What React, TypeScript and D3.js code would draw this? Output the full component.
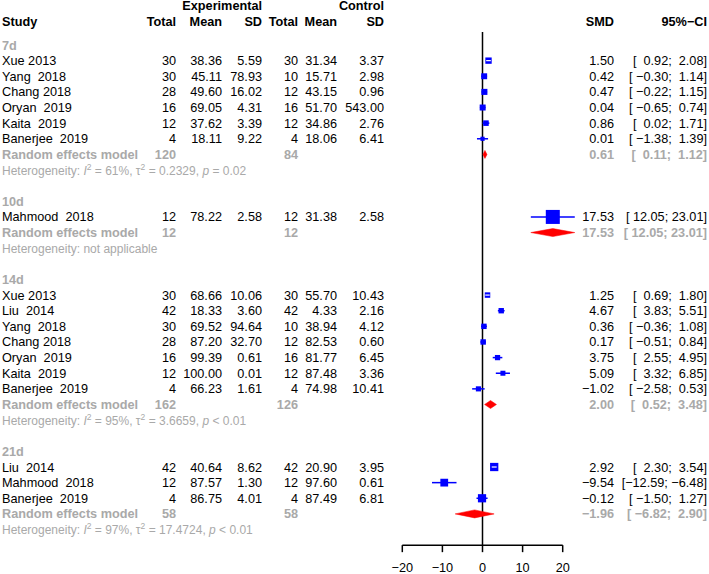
import React from 'react';
import * as d3 from 'd3';

const subgroups = ['7d', '10d', '14d', '21d'];
const studyLabels = ['Xue 2013', 'Yang  2018', 'Chang 2018', 'Oryan  2019', 'Kaita  2019', 'Banerjee  2019',
  'Mahmood  2018',
  'Xue 2013', 'Liu  2014', 'Yang  2018', 'Chang 2018', 'Oryan  2019', 'Kaita  2019', 'Banerjee  2019',
  'Liu  2014', 'Mahmood  2018', 'Banerjee  2019'];
const studyGroup = ['7d', '7d', '7d', '7d', '7d', '7d', '10d', '14d', '14d', '14d', '14d', '14d', '14d', '14d', '21d', '21d', '21d'];
const expTotal = [30, 30, 28, 16, 12, 4, 12, 30, 42, 30, 28, 16, 12, 4, 42, 12, 4];
const expMean = [38.36, 45.11, 49.60, 69.05, 37.62, 18.11, 78.22, 68.66, 18.33, 69.52, 87.20, 99.39, 100.00, 66.23, 40.64, 87.57, 86.75];
const expSD = [5.59, 78.93, 16.02, 4.31, 3.39, 9.22, 2.58, 10.06, 3.60, 94.64, 32.70, 0.61, 0.01, 1.61, 8.62, 1.30, 4.01];
const ctrlTotal = [30, 10, 12, 16, 12, 4, 12, 30, 42, 10, 12, 16, 12, 4, 42, 12, 4];
const ctrlMean = [31.34, 15.71, 43.15, 51.70, 34.86, 18.06, 31.38, 55.70, 4.33, 38.94, 82.53, 81.77, 87.48, 74.98, 20.90, 97.60, 87.49];
const ctrlSD = [3.37, 2.98, 0.96, 543.00, 2.76, 6.41, 2.58, 10.43, 2.16, 4.12, 0.60, 6.45, 3.36, 10.41, 3.95, 0.61, 6.81];
const smd = [1.50, 0.42, 0.47, 0.04, 0.86, 0.01, 17.53, 1.25, 4.67, 0.36, 0.17, 3.75, 5.09, -1.02, 2.92, -9.54, -0.12];
const ciLower = [0.92, -0.30, -0.22, -0.65, 0.02, -1.38, 12.05, 0.69, 3.83, -0.36, -0.51, 2.55, 3.32, -2.58, 2.30, -12.59, -1.50];
const ciUpper = [2.08, 1.14, 1.15, 0.74, 1.71, 1.39, 23.01, 1.80, 5.51, 1.08, 0.84, 4.95, 6.85, 0.53, 3.54, -6.48, 1.27];
const weights = [20.5, 17.9, 18.6, 18.3, 15.7, 8.9, 100, 15.2, 14.8, 14.9, 15.0, 14.1, 12.7, 13.3, 34.8, 30.8, 34.4];

const remExpTotal = [120, 12, 162, 58];
const remCtrlTotal = [84, 12, 126, 58];
const remSmd = [0.61, 17.53, 2.00, -1.96];
const remLower = [0.11, 12.05, 0.52, -6.82];
const remUpper = [1.12, 23.01, 3.48, 2.90];
const hetI2 = ['61%', '', '95%', '97%'];
const hetTau2 = ['0.2329', '', '3.6659', '17.4724'];
const hetP = ['= 0.02', '', '< 0.01', '< 0.01'];
const xTicks = [-20, -10, 0, 10, 20];

const W = 709, H = 574;
const ROW0 = 45, STEP = 15.63;
const FS = 12.7;
const GREY = '#A9A9A9';
const FONT = '"Liberation Sans", Arial, Helvetica, sans-serif';

const col = { study: 2, expTotal: 176, expMean: 222, expSD: 262, ctrlTotal: 298, ctrlMean: 337, ctrlSD: 384, smd: 614, ci: 707 };

const minus = (s: string) => s.replace(/-/g, '\u2212');
const f2 = (v: number) => minus(v.toFixed(2));

const allLower = [...ciLower, ...remLower].map(v => v.toFixed(2));
const allUpper = [...ciUpper, ...remUpper].map(v => v.toFixed(2));
const lowW = d3.max(allLower, s => s.length) as number;
const upW = d3.max(allUpper, s => s.length) as number;
const ciText = (lo: number, up: number) =>
  minus('[' + lo.toFixed(2).padStart(lowW) + '; ' + up.toFixed(2).padStart(upW) + ']');

type Row = { kind: 'label' | 'study' | 'rem' | 'het' | 'blank'; g: number; i?: number };

export default function App() {
  const rows: Row[] = [];
  subgroups.forEach((sg, g) => {
    rows.push({ kind: 'label', g });
    studyGroup.forEach((s, i) => { if (s === sg) rows.push({ kind: 'study', g, i }); });
    rows.push({ kind: 'rem', g });
    rows.push({ kind: 'het', g });
    if (g < subgroups.length - 1) rows.push({ kind: 'blank', g });
  });
  const y = (r: number) => ROW0 + r * STEP;
  const axisY = y(rows.length);

  const x = d3.scaleLinear().domain([-20, 20]).range([402.3, 562.7]);
  const sizeScale = d3.scaleSqrt().domain([0, 100]).range([0, 14]);

  const txt = (key: string, xx: number, yy: number, s: string, opts: any = {}) => (
    <text key={key} x={xx} y={yy + 4.5} textAnchor={opts.anchor || 'end'}
      fontWeight={opts.bold ? 'bold' : 'normal'} fill={opts.fill || '#000'}
      fontSize={opts.fs || FS} style={{ whiteSpace: 'pre' }} xmlSpace="preserve">{s}</text>
  );

  const texts: any[] = [];
  const marks: any[] = [];

  // header
  texts.push(txt('hExp', col.expSD, y(-2.5), 'Experimental', { bold: true }));
  texts.push(txt('hCtl', col.ctrlSD, y(-2.5), 'Control', { bold: true }));
  texts.push(txt('hStudy', col.study, y(-1.5), 'Study', { bold: true, anchor: 'start' }));
  texts.push(txt('hT1', col.expTotal, y(-1.5), 'Total', { bold: true }));
  texts.push(txt('hM1', col.expMean, y(-1.5), 'Mean', { bold: true }));
  texts.push(txt('hS1', col.expSD, y(-1.5), 'SD', { bold: true }));
  texts.push(txt('hT2', col.ctrlTotal, y(-1.5), 'Total', { bold: true }));
  texts.push(txt('hM2', col.ctrlMean, y(-1.5), 'Mean', { bold: true }));
  texts.push(txt('hS2', col.ctrlSD, y(-1.5), 'SD', { bold: true }));
  texts.push(txt('hSMD', col.smd, y(-1.5), 'SMD', { bold: true }));
  texts.push(txt('hCI', col.ci, y(-1.5), '95%\u2212CI', { bold: true }));

  rows.forEach((row, r) => {
    const yy = y(r);
    const g = row.g;
    if (row.kind === 'label') {
      texts.push(txt('lab' + r, col.study, yy, subgroups[g], { bold: true, anchor: 'start', fill: GREY }));
    } else if (row.kind === 'study') {
      const i = row.i as number;
      texts.push(txt('s' + r, col.study, yy, studyLabels[i], { anchor: 'start' }));
      texts.push(txt('et' + r, col.expTotal, yy, String(expTotal[i])));
      texts.push(txt('em' + r, col.expMean, yy, expMean[i].toFixed(2)));
      texts.push(txt('es' + r, col.expSD, yy, expSD[i].toFixed(2)));
      texts.push(txt('ct' + r, col.ctrlTotal, yy, String(ctrlTotal[i])));
      texts.push(txt('cm' + r, col.ctrlMean, yy, ctrlMean[i].toFixed(2)));
      texts.push(txt('cs' + r, col.ctrlSD, yy, ctrlSD[i].toFixed(2)));
      texts.push(txt('smd' + r, col.smd, yy, f2(smd[i])));
      texts.push(txt('ci' + r, col.ci, yy, ciText(ciLower[i], ciUpper[i])));
      const sz = sizeScale(weights[i]);
      const x0 = x(ciLower[i]), x1 = x(ciUpper[i]), xc = x(smd[i]);
      const inside = (x1 - x0) < sz - 1;
      marks.push(<line key={'cl' + r} x1={x0} x2={x1} y1={yy} y2={yy} stroke="#0000FF" strokeWidth={1.5} />);
      marks.push(<rect key={'sq' + r} x={xc - sz / 2} y={yy - sz / 2} width={sz} height={sz} fill="#0000FF" />);
      if (inside) {
        marks.push(<line key={'wl' + r} x1={x0} x2={x1} y1={yy} y2={yy} stroke="#FFFFFF" strokeWidth={1.2} />);
      }
    } else if (row.kind === 'rem') {
      texts.push(txt('rl' + r, col.study, yy, 'Random effects model', { anchor: 'start', bold: true, fill: GREY }));
      texts.push(txt('ret' + r, col.expTotal, yy, String(remExpTotal[g]), { bold: true, fill: GREY }));
      texts.push(txt('rct' + r, col.ctrlTotal, yy, String(remCtrlTotal[g]), { bold: true, fill: GREY }));
      texts.push(txt('rsmd' + r, col.smd, yy, f2(remSmd[g]), { bold: true, fill: GREY }));
      texts.push(txt('rci' + r, col.ci, yy, ciText(remLower[g], remUpper[g]), { bold: true, fill: GREY }));
      const pts: [number, number][] = [
        [x(remLower[g]), yy], [x(remSmd[g]), yy - 4], [x(remUpper[g]), yy], [x(remSmd[g]), yy + 4]];
      marks.push(<path key={'dm' + r} d={(d3.line()(pts) as string) + 'Z'} fill="#FF0000" stroke="#FF0000" strokeWidth={0.5} />);
    } else if (row.kind === 'het') {
      const fsH = 12;
      if (!hetI2[g]) {
        texts.push(
          <text key={'het' + r} x={col.study} y={yy + 4.5} fontSize={fsH} fill={GREY}>Heterogeneity: not applicable</text>
        );
      } else {
        texts.push(
          <text key={'het' + r} x={col.study} y={yy + 4.5} fontSize={fsH} fill={GREY} style={{ whiteSpace: 'pre' }} xmlSpace="preserve">
            <tspan>Heterogeneity: </tspan>
            <tspan fontStyle="italic">I</tspan>
            <tspan dy={-5} fontSize={8.5}>2</tspan>
            <tspan dy={5}>{' = ' + hetI2[g] + ', '}</tspan>
            <tspan>{'\u03C4'}</tspan>
            <tspan dy={-5} fontSize={8.5}>2</tspan>
            <tspan dy={5}>{' = ' + hetTau2[g] + ', '}</tspan>
            <tspan fontStyle="italic">p</tspan>
            <tspan>{' ' + hetP[g]}</tspan>
          </text>
        );
      }
    }
  });

  return (
    <svg width={W} height={H} style={{ position: 'absolute', left: 0, top: 0 }} fontFamily={FONT}>
      <rect x={0} y={0} width={W} height={H} fill="#FFFFFF" />
      <line x1={x(0)} x2={x(0)} y1={32} y2={axisY} stroke="#000" strokeWidth={1.5} />
      {marks}
      <line x1={x(-20)} x2={x(20)} y1={axisY} y2={axisY} stroke="#000" strokeWidth={1.5} />
      {xTicks.map(t => (
        <g key={'t' + t}>
          <line x1={x(t)} x2={x(t)} y1={axisY} y2={axisY + 7} stroke="#000" strokeWidth={1.5} />
          <text x={x(t)} y={axisY + 27} textAnchor="middle" fontSize={FS}>{minus(String(t))}</text>
        </g>
      ))}
      {texts}
    </svg>
  );
}
